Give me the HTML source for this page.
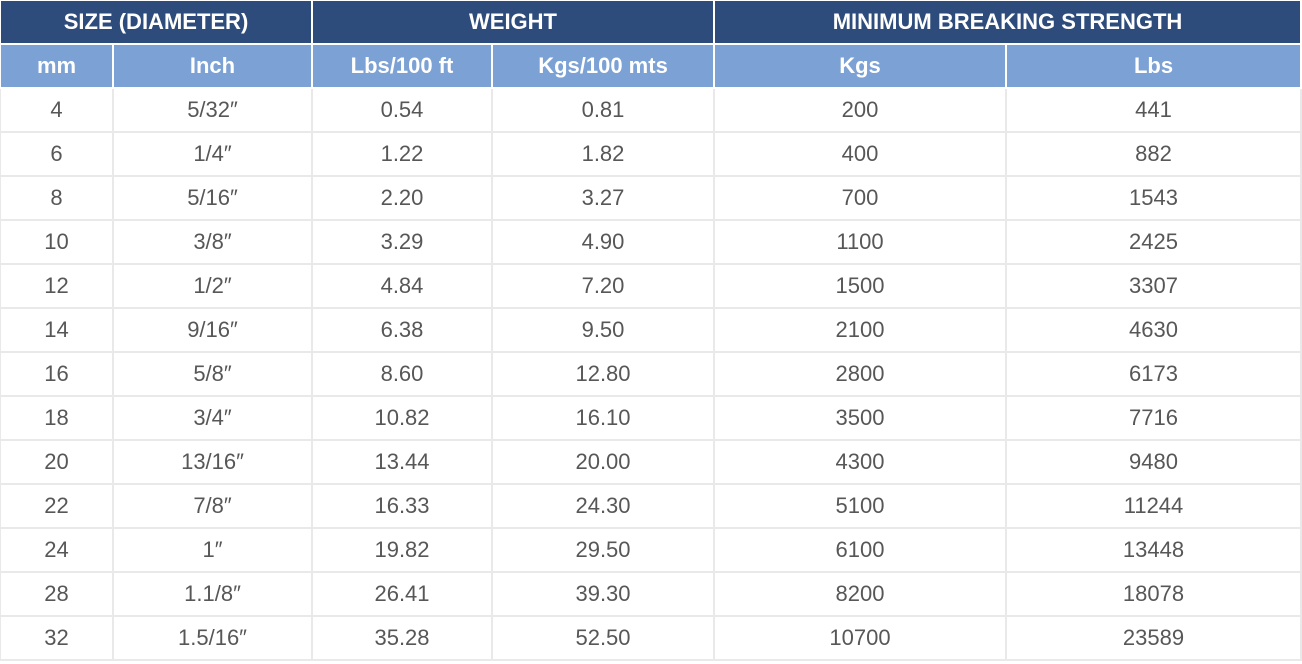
<!DOCTYPE html>
<html><head><meta charset="utf-8"><style>
html,body{margin:0;padding:0;background:#fff;width:1302px;height:664px;overflow:hidden}
table{position:absolute;left:-1px;top:1px;border-collapse:collapse;table-layout:fixed;width:1301px;font-family:"Liberation Sans",Arial,sans-serif}
td,th{border:2px solid #e9e9e9;height:42px;padding:0;text-align:center;font-size:22px;color:#575757;line-height:42px}
th{color:#fff;font-weight:bold;font-size:22px}
tr.h1 th{background:#2d4c7c;border-color:#fff}
tr.h2 th{background:#7ca1d4;border-color:#fff}
tr.h1 th{border-top:none}
</style></head><body>
<table>
<colgroup><col style="width:113px"><col style="width:199px"><col style="width:180px"><col style="width:222px"><col style="width:292px"><col style="width:295px"></colgroup>
<tr class="h1"><th colspan="2">SIZE (DIAMETER)</th><th colspan="2">WEIGHT</th><th colspan="2">MINIMUM BREAKING STRENGTH</th></tr>
<tr class="h2"><th>mm</th><th>Inch</th><th>Lbs/100 ft</th><th>Kgs/100 mts</th><th>Kgs</th><th>Lbs</th></tr>
<tr><td>4</td><td>5/32″</td><td>0.54</td><td>0.81</td><td>200</td><td>441</td></tr>
<tr><td>6</td><td>1/4″</td><td>1.22</td><td>1.82</td><td>400</td><td>882</td></tr>
<tr><td>8</td><td>5/16″</td><td>2.20</td><td>3.27</td><td>700</td><td>1543</td></tr>
<tr><td>10</td><td>3/8″</td><td>3.29</td><td>4.90</td><td>1100</td><td>2425</td></tr>
<tr><td>12</td><td>1/2″</td><td>4.84</td><td>7.20</td><td>1500</td><td>3307</td></tr>
<tr><td>14</td><td>9/16″</td><td>6.38</td><td>9.50</td><td>2100</td><td>4630</td></tr>
<tr><td>16</td><td>5/8″</td><td>8.60</td><td>12.80</td><td>2800</td><td>6173</td></tr>
<tr><td>18</td><td>3/4″</td><td>10.82</td><td>16.10</td><td>3500</td><td>7716</td></tr>
<tr><td>20</td><td>13/16″</td><td>13.44</td><td>20.00</td><td>4300</td><td>9480</td></tr>
<tr><td>22</td><td>7/8″</td><td>16.33</td><td>24.30</td><td>5100</td><td>11244</td></tr>
<tr><td>24</td><td>1″</td><td>19.82</td><td>29.50</td><td>6100</td><td>13448</td></tr>
<tr><td>28</td><td>1.1/8″</td><td>26.41</td><td>39.30</td><td>8200</td><td>18078</td></tr>
<tr><td>32</td><td>1.5/16″</td><td>35.28</td><td>52.50</td><td>10700</td><td>23589</td></tr>
</table>
</body></html>
